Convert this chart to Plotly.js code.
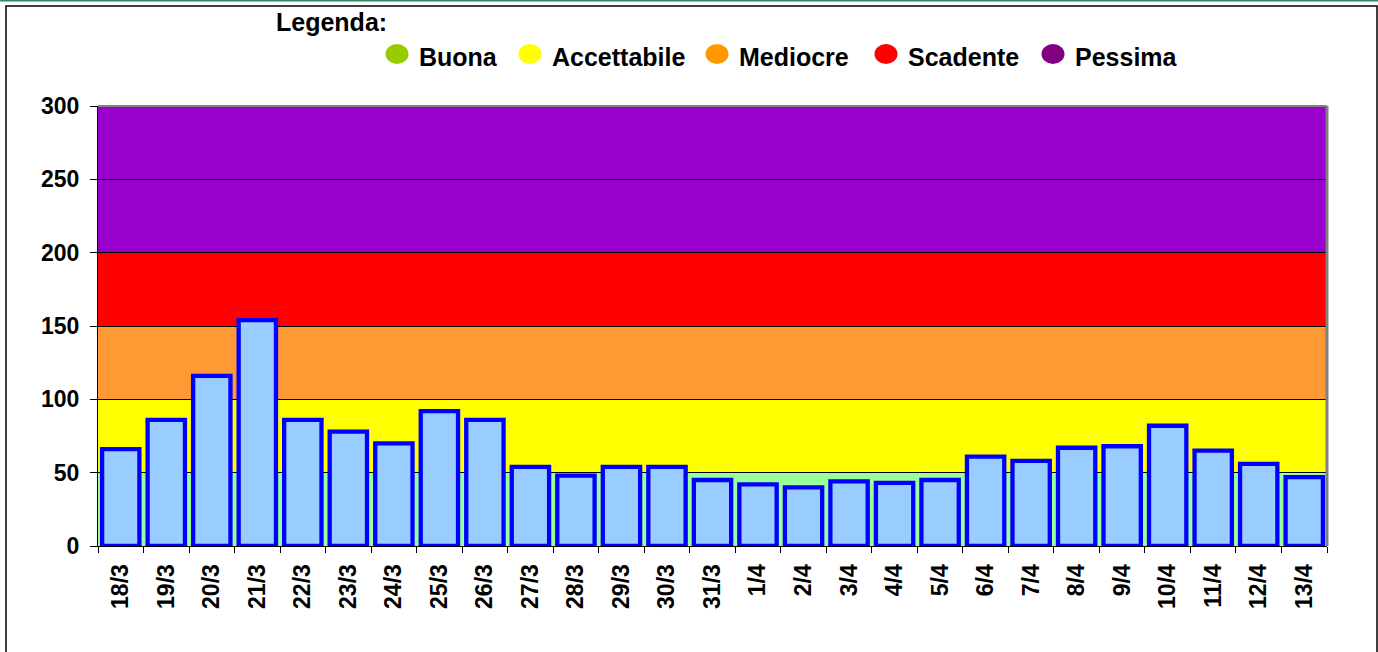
<!DOCTYPE html>
<html>
<head>
<meta charset="utf-8">
<script src="https://cdn.plot.ly/plotly-3.0.1.min.js"></script>
<style>
html,body{margin:0;padding:0;background:#fff;}
#chart{width:1378px;height:652px;}
</style>
</head>
<body>
<div id="chart"></div>
<script>
// ---- data ----
var categories = ['18/3','19/3','20/3','21/3','22/3','23/3','24/3','25/3','26/3','27/3','28/3','29/3','30/3','31/3','1/4','2/4','3/4','4/4','5/4','6/4','7/4','8/4','9/4','10/4','11/4','12/4','13/4'];
var values = [66,86,116,154,86,78,70,92,86,54,48,54,54,45,42,40,44,43,45,61,58,67,68,82,65,56,47];

var bandLow = [0,50,100,150,200];
var bandHigh = [50,100,150,200,300];
var bandColors = ['#99FF99','#FFFF00','#FF9933','#FF0000','#9900CC'];

var legendTitle = 'Legenda:';
var legendLabels = ['Buona','Accettabile','Mediocre','Scadente','Pessima'];
var legendColors = ['#99CC00','#FFFF00','#FF9900','#FF0000','#800080'];
var legendCircleX = [397,530,717,886,1053];

// ---- layout geometry (pixels) ----
var W = 1378, H = 652;
var L = 98, R = 1327, T = 106, B = 546;
function px(x){ return (x - L) / (R - L); }
function py(y){ return (B - y) / (B - T); }

var FONT = 'Liberation Sans, Arial, sans-serif';

var shapes = [];
// quality bands
for (var i = 0; i < bandLow.length; i++) {
  shapes.push({type:'rect', xref:'paper', yref:'y', x0:0, x1:1, y0:bandLow[i], y1:bandHigh[i],
    fillcolor:bandColors[i], line:{width:0}, layer:'below'});
}
// plot border top/right (gray)
shapes.push({type:'line', xref:'paper', yref:'paper', x0:0, x1:1, y0:1, y1:1, line:{color:'#808080', width:2}, layer:'above'});
shapes.push({type:'line', xref:'paper', yref:'paper', x0:1, x1:1, y0:0, y1:1, line:{color:'#808080', width:3}, layer:'above'});
// outer frame
shapes.push({type:'rect', xref:'paper', yref:'paper', x0:px(6), x1:px(1377), y0:py(6), y1:py(700),
  line:{color:'#000000', width:1.5}, fillcolor:'rgba(0,0,0,0)', layer:'above'});
// teal top line
shapes.push({type:'line', xref:'paper', yref:'paper', x0:px(0), x1:px(1378), y0:py(0.5), y1:py(0.5),
  line:{color:'#2E8B67', width:2}, layer:'above'});

var annotations = [];
annotations.push({xref:'paper', yref:'paper', x:px(274), y:py(22), xanchor:'left', yanchor:'middle',
  text:legendTitle, showarrow:false, font:{family:FONT, size:25, color:'#000', weight:'bold'}});
for (var j = 0; j < legendLabels.length; j++) {
  shapes.push({type:'circle', xref:'paper', yref:'paper', xsizemode:'pixel', ysizemode:'pixel',
    xanchor:px(legendCircleX[j]), yanchor:py(54), x0:-11.5, x1:11.5, y0:-10, y1:10,
    fillcolor:legendColors[j], line:{width:0}, layer:'above'});
  annotations.push({xref:'paper', yref:'paper', x:px(legendCircleX[j] + 20), y:py(57), xanchor:'left', yanchor:'middle',
    text:legendLabels[j], showarrow:false, font:{family:FONT, size:25, color:'#000', weight:'bold'}});
}

var trace = {
  type:'bar', x:categories, y:values,
  marker:{color:'#99CCFF', line:{color:'#0000FF', width:4.3}},
  hoverinfo:'x+y'
};

var layout = {
  width:W, height:H,
  margin:{l:L, r:W-R, t:T, b:H-B, pad:0},
  paper_bgcolor:'#ffffff', plot_bgcolor:'#ffffff',
  showlegend:false,
  bargap:0.18,
  font:{family:FONT, color:'#000'},
  xaxis:{type:'category', tickangle:-90, ticks:'outside', tickson:'boundaries', ticklen:6, tickcolor:'#000', tickwidth:1,
    showline:true, linecolor:'#000', linewidth:1, showgrid:false, zeroline:false,
    tickfont:{family:FONT, size:23, color:'#000', weight:'bold'}, ticklabelstandoff:8, fixedrange:true},
  yaxis:{range:[0,300], dtick:50, tick0:0, ticks:'outside', ticklen:7, tickcolor:'#000', tickwidth:1,
    showline:true, linecolor:'#000', linewidth:1, showgrid:true, gridcolor:'#000', gridwidth:1, zeroline:false,
    tickfont:{family:FONT, size:23, color:'#000', weight:'bold'}, ticklabelstandoff:6, fixedrange:true},
  shapes:shapes,
  annotations:annotations
};

Plotly.newPlot('chart', [trace], layout, {displayModeBar:false, staticPlot:true});
</script>
</body>
</html>
